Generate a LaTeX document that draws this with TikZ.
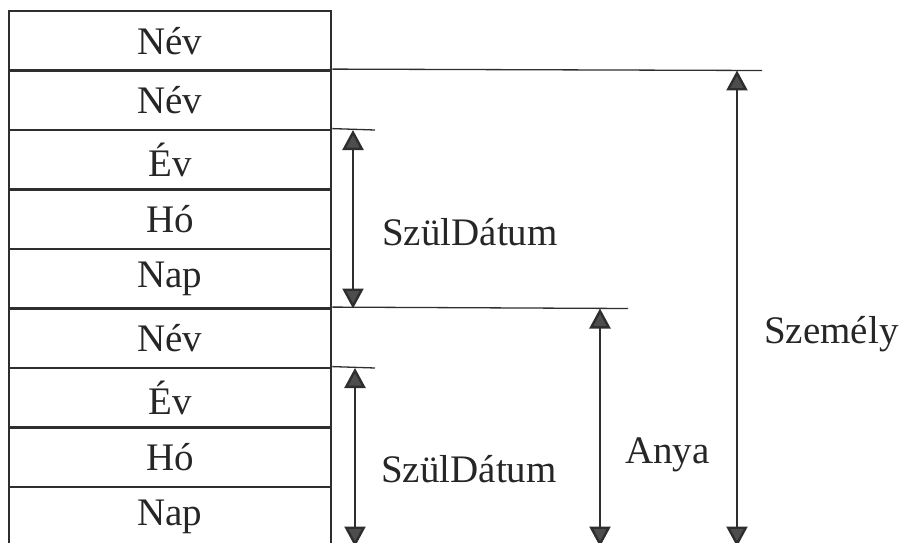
\documentclass[tikz,border=0pt]{standalone}
\usepackage{fontspec}
\setmainfont{Liberation Serif}
\usetikzlibrary{arrows.meta}
\definecolor{ink}{HTML}{2E2E2E}
\definecolor{txt}{HTML}{262626}
\begin{document}
\begin{tikzpicture}[x=1pt,y=-1pt,
  cell/.style={draw=ink,line width=2.8pt,minimum width=322pt,minimum height=59.5pt,
    inner sep=0pt,font=\fontsize{39}{45}\selectfont,text=txt},
  leader/.style={draw=ink,line width=1.3pt},
  tip/.tip={Triangle[length=20pt 0 0,width=21pt 0 0,fill=ink!85!white]},
  dim/.style={draw=ink,line width=2.4pt,tip-tip},
  lbl/.style={anchor=base west,inner sep=0pt,font=\fontsize{39}{45}\selectfont,text=txt}]
\useasboundingbox (0,0) rectangle (903,543);
\clip (0,0) rectangle (903,543);
% record stack
\node[cell] (r1) at (170,40.75)  {Név};
\node[cell] (r2) at (170,100.25) {Név};
\node[cell] (r3) at (170,159.75) {Év};
\node[cell] (r4) at (170,219.25) {Hó};
\node[cell] (r5) at (170,278.75) {Nap};
\node[cell] (r6) at (170,338.25) {Név};
\node[cell] (r7) at (170,397.75) {Év};
\node[cell] (r8) at (170,457.25) {Hó};
\node[cell] (r9) at (170,516.75) {Nap};
% extension lines
\coordinate (e2) at (762,70.5);
\coordinate (e3) at (375,130);
\coordinate (e6) at (628,308.5);
\coordinate (e7) at (375,368);
\draw[leader] (r2.north east) -- (e2);
\draw[leader] (r3.north east) -- (e3);
\draw[leader] (r6.north east) -- (e6);
\draw[leader] (r7.north east) -- (e7);
% dimension arrows
\coordinate (d1t) at (353,130);   \coordinate (d1b) at (353,308.5);
\coordinate (d2t) at (355,368);   \coordinate (d2b) at (355,546.5);
\coordinate (d3t) at (600,308.5); \coordinate (d3b) at (600,546.5);
\coordinate (d4t) at (737,70.5);  \coordinate (d4b) at (737,546.5);
\draw[dim] (d1t) -- (d1b);
\draw[dim] (d2t) -- (d2b);
\draw[dim] (d3t) -- (d3b);
\draw[dim] (d4t) -- (d4b);
% labels
\node[lbl] (l1) at (382,245) {SzülDátum};
\node[lbl] (l2) at (381,482) {SzülDátum};
\node[lbl] (l3) at (625,463) {Anya};
\node[lbl] (l4) at (764,343) {Személy};
\end{tikzpicture}
\end{document}
